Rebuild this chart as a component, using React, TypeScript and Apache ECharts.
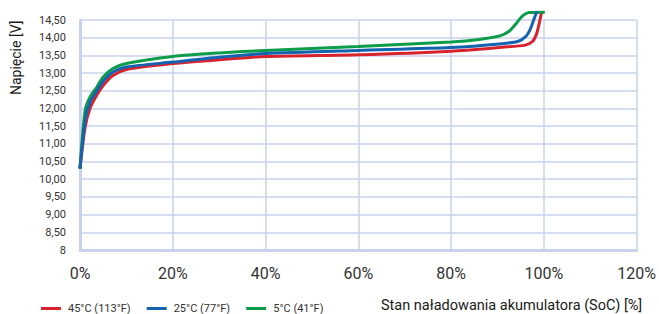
import React, { useEffect, useRef } from "react";
import * as echarts from "echarts";

const seriesNames = ["45°C (113°F)", "25°C (77°F)", "5°C (41°F)"];
const seriesColors = ["#d8232f", "#1463b0", "#0c9c4a"];

const red45: [number, number][] = [
  [0, 10.3], [1.1, 11.47], [2.15, 12.0], [3.6, 12.37], [5, 12.65], [7.1, 12.93],
  [10, 13.1], [20, 13.27], [30, 13.38], [40, 13.47], [60, 13.52], [80, 13.62],
  [91, 13.73], [96, 13.79], [97.6, 13.9], [98.4, 14.1], [98.9, 14.35], [99.5, 14.72],
];
const blue25: [number, number][] = [
  [0, 10.3], [1.1, 11.66], [2.15, 12.18], [3.6, 12.49], [5, 12.77], [7.1, 13.03],
  [10, 13.17], [20, 13.31], [30, 13.45], [40, 13.55], [60, 13.64], [80, 13.72],
  [91, 13.83], [94.5, 13.9], [96.2, 14.05], [97.1, 14.25], [97.8, 14.5], [98.5, 14.75],
];
const green5: [number, number][] = [
  [0, 10.3], [1.1, 11.95], [2.15, 12.32], [3.6, 12.6], [5, 12.89], [7.1, 13.13],
  [10, 13.27], [20, 13.47], [30, 13.57], [40, 13.64], [60, 13.75], [80, 13.88],
  [86, 13.95], [90.5, 14.05], [92.5, 14.18], [93.9, 14.38], [95.3, 14.6], [96.8, 14.71], [100.2, 14.72],
];

const xTicks = { min: 0, max: 120, interval: 20 };
const yTicks = { min: 8, max: 14.5, interval: 0.5 };

const gridColor = "#c8d2ec";
const font = "Roboto, 'Noto Sans', sans-serif";

export default function App() {
  const ref = useRef<HTMLDivElement>(null);
  useEffect(() => {
    if (!ref.current) return;
    const chart = echarts.init(ref.current, undefined, { renderer: "svg" });
    const dataSets = [red45, blue25, green5];
    const drawOrder = [0, 2, 1];
    chart.setOption({
      animation: false,
      textStyle: { fontFamily: font },
      grid: { left: 80, right: 19, top: 20, bottom: 64 },
      legend: {
        data: seriesNames,
        left: 36,
        top: 298,
        icon: "rect",
        itemWidth: 20,
        itemHeight: 3,
        itemGap: 16,
        textStyle: { fontSize: 11, color: "#333", fontFamily: font, padding: [0, 0, 0, 2] },
      },
      xAxis: {
        type: "value",
        ...xTicks,
        axisLine: { show: true, onZero: false, lineStyle: { color: gridColor, width: 3 } },
        axisTick: { show: false },
        splitLine: { show: true, lineStyle: { color: gridColor, width: 1.5 } },
        axisLabel: {
          formatter: "{value}%",
          fontSize: 16,
          color: "#333",
          margin: 15,
          fontFamily: font,
        },
      },
      yAxis: {
        type: "value",
        ...yTicks,
        axisLine: { show: true, lineStyle: { color: gridColor, width: 3 } },
        axisTick: { show: false },
        splitLine: { show: true, lineStyle: { color: gridColor, width: 1.5 } },
        axisLabel: {
          formatter: (v: number) => (v === 8 ? "8" : v.toFixed(2).replace(".", ",")),
          fontSize: 11,
          color: "#333",
          margin: 14,
          fontFamily: font,
        },
      },
      graphic: [
        {
          type: "text",
          x: 9,
          y: 95,
          rotation: Math.PI / 2,
          style: {
            text: "Napięcie [V]",
            fontSize: 14,
            fontWeight: "normal",
            fill: "#1a1a1a",
            fontFamily: font,
            textVerticalAlign: "top",
          },
        },
        {
          type: "text",
          x: 381,
          y: 305,
          style: {
            text: "Stan naładowania akumulatora (SoC) [%]",
            fontSize: 14.5,
            fill: "#1a1a1a",
            fontFamily: font,
            textVerticalAlign: "middle",
          },
        },
      ],
      series: drawOrder.map((i) => ({
        name: seriesNames[i],
        type: "line",
        data: dataSets[i],
        smooth: 0.25,
        showSymbol: false,
        clip: false,
        color: seriesColors[i],
        lineStyle: { width: 3, color: seriesColors[i] },
      })),
    });
    return () => chart.dispose();
  }, []);
  return <div ref={ref} style={{ width: 659, height: 314, position: "absolute", left: 0, top: 0 }} />;
}
